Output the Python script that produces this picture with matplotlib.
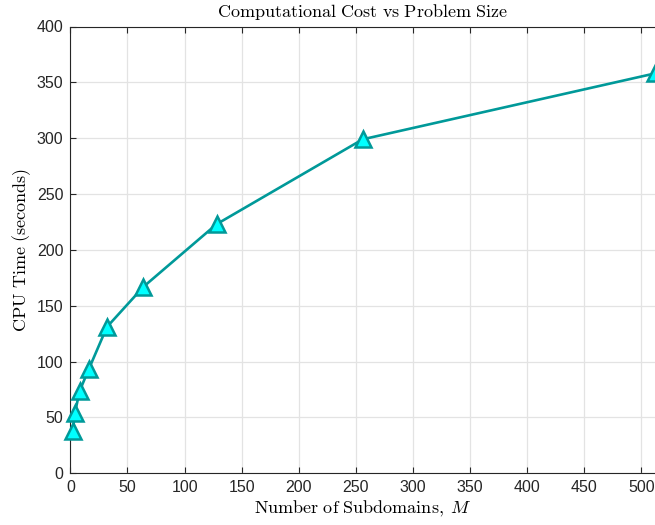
import matplotlib
matplotlib.use("Agg")
import matplotlib.pyplot as plt

# Number of subdomains and the measured CPU time for each
subdomains = [2, 4, 8, 16, 32, 64, 128, 256, 512]
cpu_time = [38, 54, 73.5, 93, 131, 167, 223, 299, 358]

x_ticks = list(range(0, 501, 50))
y_ticks = list(range(0, 401, 50))

plt.rcParams["mathtext.fontset"] = "cm"
plt.rcParams["font.family"] = ["Liberation Sans", "DejaVu Sans"]

W, H = 655, 525
fig = plt.figure(figsize=(W / 100, H / 100), dpi=100)
ax = fig.add_axes([70.4 / W, (H - 473.3) / H, 584.6 / W, 446.8 / H])

line_col = "#009999"
ax.plot(subdomains, cpu_time, color=line_col, lw=1.9, marker="^",
        markersize=11, markerfacecolor="#00ffff", markeredgecolor=line_col,
        markeredgewidth=1.8, clip_on=False, zorder=3)

ax.set_xlim(0, 512)
ax.set_ylim(0, 400)
ax.set_xticks(x_ticks)
ax.set_yticks(y_ticks)
ax.grid(True, color="#e3e3e3", lw=0.9)
ax.set_axisbelow(True)

axis_col = "#262626"
for s in ax.spines.values():
    s.set_color(axis_col)
    s.set_linewidth(0.8)
ax.spines["right"].set_visible(False)
ax.tick_params(direction="in", length=4, width=0.8, colors=axis_col,
               labelsize=11.5, top=True, right=False, pad=5)
for lbl in ax.get_xticklabels() + ax.get_yticklabels():
    lbl.set_color(axis_col)

ax.set_title(r"$\mathrm{Computational\ Cost\ vs\ Problem\ Size}$",
             fontsize=13, color="black", pad=7)
ax.set_xlabel(r"$\mathrm{Number\ of\ Subdomains,}\;M$", fontsize=13, labelpad=3)
ax.set_ylabel(r"$\mathrm{CPU\ Time\ (seconds)}$", fontsize=13, labelpad=3)

fig.savefig("out.png", dpi=100)
